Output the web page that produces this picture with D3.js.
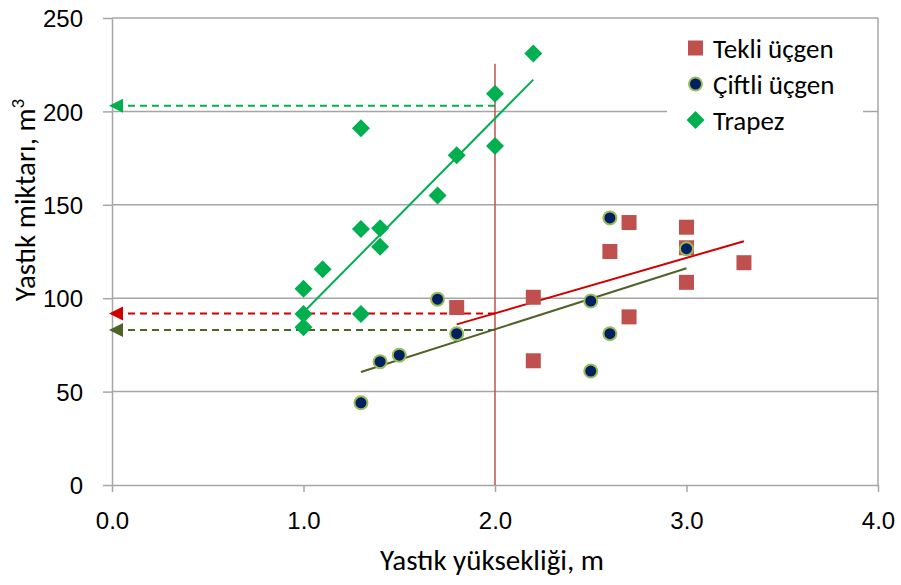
<!DOCTYPE html>
<html>
<head>
<meta charset="utf-8">
<script src="https://cdn.jsdelivr.net/npm/d3@7"></script>
<style>
  body { margin: 0; background: #fff; }
  svg { font-family: Carlito, Lato, sans-serif; }
  .tick text { font-size: 24px; fill: #000; }
</style>
</head>
<body>
<svg id="chart"></svg>
<script>
// data
const tekli = [
  [1.8, 95], [2.2, 100.5], [2.2, 66.5], [2.6, 125], [2.7, 140.5], [2.7, 90],
  [3.0, 138], [3.0, 127], [3.0, 108.5], [3.3, 119]
];
const ciftli = [
  [1.3, 44], [1.4, 66], [1.5, 69.5], [1.7, 99.5], [1.8, 81], [2.5, 98.5],
  [2.5, 61], [2.6, 143], [2.6, 81], [3.0, 126.5]
];
const trapez = [
  [1.0, 105], [1.0, 91.5], [1.0, 84.5], [1.1, 115.5], [1.3, 191], [1.3, 137],
  [1.3, 91.5], [1.4, 137.5], [1.4, 127.5], [1.7, 155], [1.8, 176.5], [2.0, 209.5],
  [2.0, 181.5], [2.2, 231]
];
const tekliTrend = [[1.8, 86], [3.3, 130.5]];
const ciftliTrend = [[1.3, 60.5], [3.0, 116]];
const trapezTrend = [[1.0, 92.5], [2.2, 217]];
const guides = [203, 91.8, 83];   // dashed read-off lines at x = 2.0
const markX = 2.0;
const markTop = 225.5;
const xTicks = [0, 1, 2, 3, 4];
const yTicks = [0, 50, 100, 150, 200, 250];
const legendNames = ["Tekli üçgen", "Çiftli üçgen", "Trapez"];

const width = 901, height = 585;
const margin = { left: 112, right: 23, top: 18, bottom: 100 };

const svg = d3.select("#chart").attr("width", width).attr("height", height);

const x = d3.scaleLinear().domain([0, 4]).range([margin.left, width - margin.right]);
const y = d3.scaleLinear().domain([0, 250]).range([height - margin.bottom, margin.top]);

const red = "#c0504d", green = "#00b050", olive = "#4f6228", darkRed = "#d00000";
const gridColor = "#a6a6a6";

// gridlines
svg.append("g").selectAll("line")
  .data(yTicks.slice(1))
  .enter().append("line")
  .attr("x1", x(0)).attr("x2", x(4))
  .attr("y1", d => y(d)).attr("y2", d => y(d))
  .attr("stroke", gridColor).attr("stroke-width", 1.5);

// right border
svg.append("line")
  .attr("x1", x(4)).attr("x2", x(4))
  .attr("y1", y(250)).attr("y2", y(0))
  .attr("stroke", gridColor).attr("stroke-width", 1.5);

// axes
const xAxis = svg.append("g")
  .attr("transform", `translate(0, ${y(0)})`)
  .call(d3.axisBottom(x).tickValues(xTicks).tickFormat(d3.format(".1f")).tickSizeInner(7).tickSizeOuter(0).tickPadding(20));
const yAxis = svg.append("g")
  .attr("transform", `translate(${x(0)}, 0)`)
  .call(d3.axisLeft(y).tickValues(yTicks).tickSizeInner(9).tickSizeOuter(0).tickPadding(20));
[xAxis, yAxis].forEach(g => {
  g.select(".domain").attr("stroke", gridColor).attr("stroke-width", 1.5);
  g.selectAll(".tick line").attr("stroke", gridColor).attr("stroke-width", 1.5);
});
yAxis.selectAll(".tick text").attr("dy", "0.36em");

// vertical marker line
svg.append("line")
  .attr("x1", x(markX)).attr("x2", x(markX))
  .attr("y1", y(markTop)).attr("y2", y(0))
  .attr("stroke", red).attr("stroke-width", 1.5);

// trend lines
const line = d3.line().x(d => x(d[0])).y(d => y(d[1]));
[[tekliTrend, darkRed], [ciftliTrend, olive], [trapezTrend, green]].forEach(([d, c]) => {
  svg.append("path").datum(d).attr("d", line)
    .attr("fill", "none").attr("stroke", c).attr("stroke-width", 2);
});

// dashed guides with arrowheads
const guideColors = [green, darkRed, olive];
guides.forEach((v, i) => {
  svg.append("line")
    .attr("x1", x(markX)).attr("x2", x(0) + 10)
    .attr("y1", y(v)).attr("y2", y(v))
    .attr("stroke", guideColors[i]).attr("stroke-width", 2)
    .attr("stroke-dasharray", "7,5");
  svg.append("path")
    .attr("d", `M${x(0) - 3},${y(v)} L${x(0) + 11},${y(v) - 7} L${x(0) + 11},${y(v) + 7} Z`)
    .attr("fill", guideColors[i]);
});

// markers
svg.append("g").selectAll("rect")
  .data(tekli).enter().append("rect")
  .attr("x", d => x(d[0]) - 7.5).attr("y", d => y(d[1]) - 7.5)
  .attr("width", 15).attr("height", 15)
  .attr("fill", red);

svg.append("g").selectAll("circle")
  .data(ciftli).enter().append("circle")
  .attr("cx", d => x(d[0])).attr("cy", d => y(d[1]))
  .attr("r", 6.5)
  .attr("fill", "#002060").attr("stroke", "#9bbb59").attr("stroke-width", 2);

const diamond = "M0,-9 L9,0 L0,9 L-9,0 Z";
svg.append("g").selectAll("path")
  .data(trapez).enter().append("path")
  .attr("d", diamond)
  .attr("transform", d => `translate(${x(d[0])}, ${y(d[1])})`)
  .attr("fill", green);

// legend
const legend = svg.append("g").attr("transform", "translate(667, 24)");
legend.append("rect").attr("width", 196).attr("height", 116).attr("fill", "#fff");
const rows = legend.selectAll("g.row")
  .data(legendNames).enter().append("g")
  .attr("class", "row")
  .attr("transform", (d, i) => `translate(0, ${24 + i * 36})`);
rows.each(function (d, i) {
  const g = d3.select(this);
  if (i === 0) {
    g.append("rect").attr("x", 21).attr("y", -7.5).attr("width", 15).attr("height", 15).attr("fill", red);
  } else if (i === 1) {
    g.append("circle").attr("cx", 28.5).attr("cy", 0).attr("r", 6.5)
      .attr("fill", "#002060").attr("stroke", "#9bbb59").attr("stroke-width", 2);
  } else {
    g.append("path").attr("d", diamond).attr("transform", "translate(28.5, 0)").attr("fill", green);
  }
});
rows.append("text")
  .attr("x", 46).attr("y", 0).attr("dy", "0.36em")
  .style("font-size", "27px")
  .text(d => d);

// axis titles
svg.append("text")
  .attr("text-anchor", "middle")
  .attr("x", 492).attr("y", 570)
  .style("font-size", "29px")
  .text("Yastık yüksekliği, m");

const yt = svg.append("text")
  .attr("text-anchor", "middle")
  .attr("transform", `translate(35, 200) rotate(-90)`)
  .style("font-size", "29px");
yt.append("tspan").text("Yastık miktarı, m");
yt.append("tspan").attr("dy", "-11").style("font-size", "19px").text("3");
</script>
</body>
</html>
